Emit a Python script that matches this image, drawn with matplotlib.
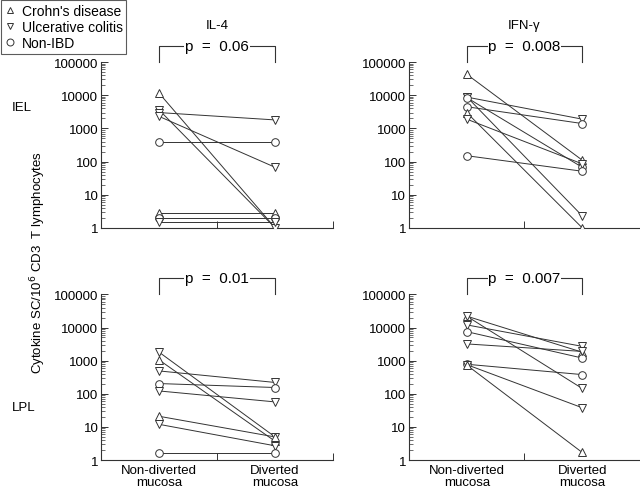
import matplotlib
matplotlib.use('Agg')
import matplotlib.pyplot as plt
from matplotlib.lines import Line2D
from matplotlib.ticker import LogLocator, NullFormatter, FixedLocator

plt.rcParams['font.family'] = ['Liberation Sans', 'DejaVu Sans']
plt.rcParams['font.size'] = 9

# group codes: CD = Crohn's disease, UC = ulcerative colitis, NI = non-IBD
il4_iel_group = ['CD', 'UC', 'UC', 'UC', 'NI', 'CD', 'NI', 'UC']
il4_iel_pre = [11500, 3600, 3000, 2300, 400, 2.8, 2.0, 1.5]
il4_iel_post = [1, 1, 1800, 67, 400, 2.8, 2.0, 1.5]

ifn_iel_group = ['CD', 'UC', 'UC', 'NI', 'NI', 'CD', 'UC', 'NI']
ifn_iel_pre = [43000, 9000, 8800, 8500, 4500, 3000, 1900, 150]
ifn_iel_post = [110, 2.3, 1900, 67, 1400, 1, 85, 51]

il4_lpl_group = ['UC', 'CD', 'UC', 'NI', 'UC', 'CD', 'UC', 'NI']
il4_lpl_pre = [1800, 1050, 490, 204, 122, 21, 12, 1.6]
il4_lpl_post = [5, 3.7, 220, 155, 57, 5, 2.7, 1.6]

ifn_lpl_group = ['CD', 'UC', 'UC', 'NI', 'UC', 'NI', 'UC', 'CD']
ifn_lpl_pre = [22000, 22000, 12000, 7500, 3200, 780, 760, 740]
ifn_lpl_post = [1800, 145, 2700, 1200, 1900, 380, 38, 1.7]

p_values = ['p = 0.06', 'p = 0.008', 'p = 0.01', 'p = 0.007']
titles = ['IL-4', 'IFN-\u03b3']
xlabels = ['Non-diverted\nmucosa', 'Diverted\nmucosa']
legend_names = ["Crohn's disease", 'Ulcerative colitis', 'Non-IBD']

markers = {'CD': '^', 'UC': 'v', 'NI': 'o'}
ink = '#333333'

fig = plt.figure(figsize=(6.4, 4.89), dpi=100)
boxes = [[0.158, 0.532, 0.3625, 0.339], [0.639, 0.532, 0.361, 0.339],
         [0.158, 0.057, 0.3625, 0.339], [0.639, 0.057, 0.361, 0.339]]
panels = [(il4_iel_group, il4_iel_pre, il4_iel_post),
          (ifn_iel_group, ifn_iel_pre, ifn_iel_post),
          (il4_lpl_group, il4_lpl_pre, il4_lpl_post),
          (ifn_lpl_group, ifn_lpl_pre, ifn_lpl_post)]

for i, (box, (grp, pre, post)) in enumerate(zip(boxes, panels)):
    ax = fig.add_axes(box)
    for g, a, b in zip(grp, pre, post):
        ax.plot([1, 2], [a, b], color=ink, lw=0.7, zorder=2)
    for g, a, b in zip(grp, pre, post):
        ax.plot([1, 2], [a, b], ls='none', marker=markers[g], ms=5.5,
                mfc='white', mec=ink, mew=0.7, zorder=3)
    ax.set_yscale('log')
    ax.set_ylim(1, 100000)
    ax.set_xlim(0.5, 2.5)
    ax.yaxis.set_major_locator(FixedLocator([1, 10, 100, 1000, 10000, 100000]))
    ax.set_yticklabels(['1', '10', '100', '1000', '10000', '100000'])
    ax.yaxis.set_minor_locator(LogLocator(base=10, subs=range(2, 10), numticks=20))
    ax.yaxis.set_minor_formatter(NullFormatter())
    ax.set_xticks([0.5, 1.5, 2.5])
    ax.set_xticklabels(['', '', ''])
    ax.tick_params(axis='both', which='major', direction='in', length=5,
                   width=0.7, color=ink, pad=2, labelsize=9.5)
    ax.tick_params(axis='y', which='minor', direction='in', length=3,
                   width=0.5, color=ink)
    for s in ['top', 'right']:
        ax.spines[s].set_visible(False)
    for s in ['left', 'bottom']:
        ax.spines[s].set_color(ink)
        ax.spines[s].set_linewidth(0.8)

    # significance bracket
    tr = ax.get_xaxis_transform()
    yb = 1.096
    ax.plot([1, 1, 2, 2], [1.0, yb, yb, 1.0], color=ink, lw=0.8,
            transform=tr, clip_on=False)
    ax.text(1.5, yb, p_values[i].replace(' ', '  '), transform=tr,
            ha='center', va='center', fontsize=11,
            bbox=dict(facecolor='white', edgecolor='none', pad=0.5))
    if i < 2:
        ax.text(1.5, 1.223, titles[i], transform=tr, ha='center',
                va='center', fontsize=9.5)
    else:
        for xv, lab in zip([1, 2], xlabels):
            ax.text(xv, -0.025, lab, transform=tr, ha='center', va='top',
                    fontsize=9.5, linespacing=0.95)

fig.text(0.019, 0.779, 'IEL', fontsize=9.5, va='center')
fig.text(0.019, 0.166, 'LPL', fontsize=9.5, va='center')
fig.text(0.059, 0.464, 'Cytokine SC/10$^6$ CD3  T lymphocytes', rotation=90,
         ha='center', va='center', fontsize=9.5)

handles = [Line2D([], [], ls='none', marker=m, ms=5, mfc='white', mec=ink,
                  mew=0.7) for m in ['^', 'v', 'o']]
leg = fig.legend(handles, legend_names, loc='upper left',
                 bbox_to_anchor=(0.0, 1.0), fontsize=10, frameon=True,
                 fancybox=False, handlelength=0.8, handletextpad=0.4,
                 borderpad=0.25, labelspacing=0.15, borderaxespad=0.1)
leg.get_frame().set_edgecolor(ink)
leg.get_frame().set_linewidth(0.8)

fig.savefig('out.png', dpi=100)
